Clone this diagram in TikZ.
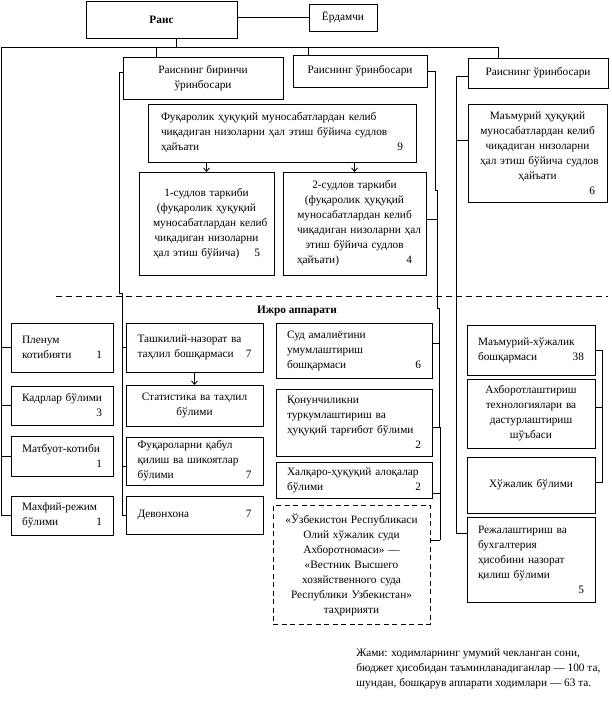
\documentclass[tikz,border=0pt]{standalone}
\usepackage{fontspec}
\setmainfont{Liberation Serif}
\usetikzlibrary{arrows.meta}
\newcommand\myfs{\fontsize{11.3}{15}\selectfont}
\begin{document}
\begin{tikzpicture}[x=1pt,y=-1pt,line width=0.8pt,
  box/.style={draw,anchor=north west,inner sep=0pt,outer sep=0pt,font=\myfs},
  dbox/.style={box,dash pattern=on 5pt off 3.5pt},
  arr/.style={-{Straight Barb[length=3.5pt,width=6pt]}},
  lnk/.style={line width=0.8pt}]
\fill[white] (0,0) rectangle (611,704);
\useasboundingbox (0,0) rectangle (611,704);
% top
\node[box,minimum width=151pt,minimum height=37pt] (rais) at (86,1) {\textbf{Раис}};
\node[box,minimum width=68pt,minimum height=27pt] (yord) at (309,4) {Ёрдамчи};
\node[box,minimum width=160pt,minimum height=42pt,align=center] (dep1) at (123,57) {Раиснинг биринчи\\ўринбосари};
\node[box,minimum width=134pt,minimum height=32pt] (dep2) at (293,55) {Раиснинг ўринбосари};
\node[box,minimum width=140pt,minimum height=30pt] (dep3) at (468,58) {Раиснинг ўринбосари};
% chambers
\node[box,minimum width=268pt,minimum height=58pt,text width=242pt,align=left] (fuk) at (148,104)
 {Фуқаролик~ҳуқуқий~муносабатлардан~келиб\\чиқадиган~низоларни~ҳал~этиш~бўйича~судлов\\ҳайъати\hfill 9\hspace*{14pt}};
\node[box,minimum width=135pt,minimum height=103pt,text width=107pt,align=center] (sud1) at (139,172)
 {1-судлов~таркиби\\(фуқаролик~ҳуқуқий\\муносабатлардан~келиб\\чиқадиган~низоларни\\ҳал~этиш~бўйича)\hfill 5};
\node[box,minimum width=143pt,minimum height=103pt,text width=115pt,align=center] (sud2) at (283,172)
 {2-судлов~таркиби\\(фуқаролик~ҳуқуқий\\муносабатлардан~келиб\\чиқадиган~низоларни~ҳал\\этиш~бўйича~судлов\\ҳайъати)\hfill 4};
\node[box,minimum width=139pt,minimum height=98pt,text width=115pt,align=center] (mah) at (468,104)
 {Маъмурий~ҳуқуқий\\муносабатлардан~келиб\\чиқадиган~низоларни\\ҳал~этиш~бўйича~судлов\\ҳайъати\hspace*{40pt}\\\mbox{}\hfill 6};
% executive apparatus title and dashed divider
\coordinate (dl) at (56,296);
\coordinate (dr) at (608,296);
\draw[dash pattern=on 6pt off 4pt] (dl) -- (dr);
\node[font=\myfs\bfseries,inner sep=0pt] (ijro) at (297,311) {Ижро аппарати};
% column 1
\node[box,minimum width=102pt,minimum height=49pt,text width=80pt,align=left] (plen) at (11,323) {Пленум\\котибияти\hfill 1};
\node[box,minimum width=102pt,minimum height=39pt,text width=80pt,align=left] (kadr) at (11,386) {Кадрлар~бўлими\\\mbox{}\hfill 3};
\node[box,minimum width=102pt,minimum height=40pt,text width=80pt,align=left] (matb) at (11,436) {Матбуот-котиби\\\mbox{}\hfill 1};
\node[box,minimum width=102pt,minimum height=39pt,text width=80pt,align=left] (mahf) at (11,496) {Махфий-режим\\бўлими\hfill 1};
% column 2
\node[box,minimum width=137pt,minimum height=49pt,text width=114pt,align=left] (tashk) at (126,323) {Ташкилий-назорат~ва\\таҳлил~бошқармаси\hfill 7};
\node[box,minimum width=137pt,minimum height=41pt,text width=114pt,align=center] (stat) at (126,385) {Статистика~ва~таҳлил\\бўлими};
\node[box,minimum width=137pt,minimum height=48pt,text width=114pt,align=left] (fuqr) at (126,437) {Фуқароларни~қабул\\қилиш~ва~шикоятлар\\бўлими\hfill 7};
\node[box,minimum width=137pt,minimum height=38pt,text width=114pt,align=left] (devon) at (126,496) {Девонхона\hfill 7};
% column 3
\node[box,minimum width=156pt,minimum height=55pt,text width=134pt,align=left] (sud) at (276,323) {Суд~амалиётини\\умумлаштириш\\бошқармаси\hfill 6};
\node[box,minimum width=156pt,minimum height=67pt,text width=134pt,align=left] (qonun) at (276,389) {Қонунчиликни\\туркумлаштириш~ва\\ҳуқуқий~тарғибот~бўлими\\\mbox{}\hfill 2};
\node[box,minimum width=156pt,minimum height=36pt,text width=134pt,align=left] (xalq) at (276,462) {Халқаро-ҳуқуқий~алоқалар\\бўлими\hfill 2};
\node[dbox,minimum width=157pt,minimum height=119pt,text width=140pt,align=center] (dash) at (273,505)
 {«Ўзбекистон~Республикаси\\Олий~хўжалик~суди\\Ахборотномаси»~—\\«Вестник~Высшего\\хозяйственного~суда\\Республики~Узбекистан»\\таҳририяти};
% column 4
\node[box,minimum width=128pt,minimum height=50pt,text width=106pt,align=left] (maxu) at (467,325) {Маъмурий-хўжалик\\бошқармаси\hfill 38};
\node[box,minimum width=128pt,minimum height=69pt,text width=106pt,align=center] (axbor) at (467,379) {Ахборотлаштириш\\технологиялари~ва\\дастурлаштириш\\шўъбаси};
\node[box,minimum width=128pt,minimum height=56pt,text width=106pt,align=center] (xoj) at (467,457) {Хўжалик~бўлими};
\node[box,minimum width=128pt,minimum height=85pt,text width=106pt,align=left] (rejal) at (467,517) {Режалаштириш~ва\\бухгалтерия\\ҳисобини~назорат\\қилиш~бўлими\\\mbox{}\hfill 5};
% footnote
\node[font=\myfs,align=left,anchor=north west,inner sep=0pt] (note) at (356,648)
 {Жами: ходимларнинг умумий чекланган сони,\\бюджет ҳисобидан таъминланадиганлар — 100 та,\\шундан, бошқарув аппарати ходимлари — 63 та.};
% ---------- connectors ----------
\draw (yord.west -| rais.east) -- (yord.west);
\coordinate (busL) at (1,47.5);
\coordinate (busR) at (498,47.5);
\coordinate (rtap) at (176,47.5);
\coordinate (d1) at (156,47.5);
\coordinate (d2) at (308,47.5);
\draw (rtap |- rais.south) -- (rtap);
\draw (busR |- dep3.north) -- (busR) -- (busL) |- (mahf.west);
\draw (d1) -- (d1 |- dep1.north);
\draw (d2) -- (d2 |- dep2.north);
\draw (busL |- plen.west) -- (plen.west);
\draw (busL |- kadr.west) -- (kadr.west);
\draw (busL |- matb.west) -- (matb.west);
% first deputy branch
\coordinate (v1) at (119,72);
\coordinate (v2) at (122,293);
\draw ([yshift=6pt]dep1.west) -- (v1) -- (v1 |- v2) -- (v2) |- (devon.west);
\draw (v2 |- tashk.west) -- (tashk.west);
\draw ([yshift=-5pt]fuqr.west) -- ++(-4,0);
\draw[arr] (tashk.south) -- (stat.north);
\draw[arr] (fuk.south -| sud1.north) -- (sud1.north);
\draw[arr] (fuk.south -| sud2.north) -- (sud2.north);
% second deputy branch
\draw (dep2.east) -- ++(8,0) -- (435,190) -- (437,190) -- (437,308) -- (439,308) -- (439,427) -- (440,427) -- (440,540);
\draw ([yshift=4.5pt]sud2.east) -- ++(11,0);
\draw ([yshift=7.5pt]sud.east) -- ++(7,0);
\draw ([yshift=-4.5pt]qonun.east) -- ++(7,0);
\draw ([yshift=-13pt]xalq.east) -- ++(8,0);
\draw ([yshift=24.5pt]dash.east) -- ++(10,0);
% third deputy branch
\draw ([yshift=-3pt]dep3.west) -- (456,76) -- (456,533) -- ([yshift=26.5pt]rejal.west);
\draw ([yshift=13pt]mah.west) -- ++(-12,0);
\draw (maxu.east) -- ++(7,0) -- (602,482) -- ([yshift=3pt]xoj.east);
\draw ([yshift=6.5pt]axbor.east) -- ++(7,0);
\end{tikzpicture}
\end{document}
